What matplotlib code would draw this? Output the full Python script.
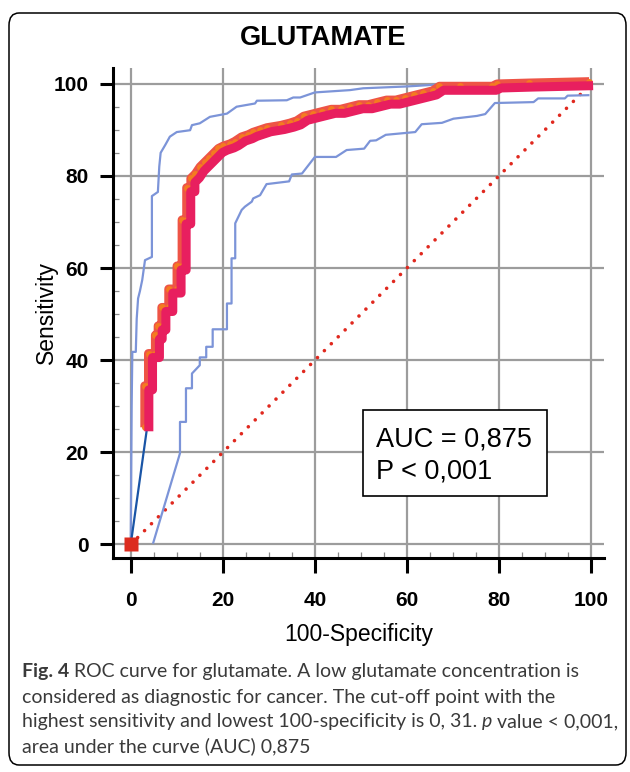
import matplotlib
matplotlib.use("Agg")
import matplotlib.pyplot as plt
from matplotlib import font_manager
from matplotlib.patches import Rectangle, FancyBboxPatch
from matplotlib.ticker import MultipleLocator
from matplotlib.transforms import offset_copy

# ---------------- data ----------------
roc_x = [3.5, 3.5, 4.3, 4.3, 5.8, 5.8, 6.4, 6.4, 7.2, 7.2, 8.7, 8.7, 10.5, 10.5,
         11.6, 11.6, 12.6, 12.6, 13.5, 13.5, 14.5, 15.5, 16.5, 17.5, 18.5, 19.5,
         20.5, 22, 23, 24.5, 26, 27, 28.5, 30, 33, 35, 36.5, 38, 40, 42, 44, 46,
         48, 50, 52, 54, 56, 58, 60, 62, 64, 66, 67.5, 72, 79, 80, 87, 100]
roc_y = [25, 34, 34, 41, 41, 45, 45, 47, 47, 51, 51, 55, 55, 60,
         60, 70, 70, 77, 77, 79, 80, 81.5, 82.5, 83.5, 84.5, 85.5,
         86, 86.5, 87, 88, 88.5, 89, 89.5, 90, 90.5, 91, 91.5, 92.5, 93, 93.5, 94, 94,
         94.5, 95, 95, 95.5, 96, 96, 96.5, 97, 97.5, 98, 99, 99, 99, 99.5, 99.7, 100]

ci_up_x = [0, 0.2, 0.35, 1.1, 1.3, 1.6, 2.0, 2.5, 3.1, 4.6, 4.6, 5.9, 6.2, 6.5,
           7.5, 8.5, 10, 12.9, 13.3, 15, 17.2, 20.9, 23, 27, 27.4, 33.9, 35.3,
           36.8, 40, 47.6, 50.5, 60, 65, 70, 80, 90, 100]
ci_up_y = [0, 30, 41.8, 41.8, 49, 53.4, 55, 57.4, 61.7, 62.4, 75.6, 76.5, 82, 85,
           86.7, 88.5, 89.5, 89.9, 91, 91.4, 92.8, 93.5, 95, 95.7, 96.3, 96.4, 97,
           97, 98.1, 98.6, 99, 99.4, 99.7, 100, 100, 100, 100]

ci_lo_x = [4.9, 10.7, 10.7, 12.0, 12.0, 13.3, 13.3, 15.0, 15.0, 16.4, 16.4, 17.8,
           17.8, 20.9, 20.9, 21.9, 21.9, 22.7, 22.7, 24.1, 24.8, 26.3, 26.6, 28.1,
           29.5, 34.4, 35.0, 37.2, 40.0, 44.6, 46.9, 50.7, 52.0, 53.3, 55.4, 61.8,
           63.2, 67.6, 70.1, 75.2, 77.0, 79.1, 87.5, 88.5, 94.3, 94.9, 99.4]
ci_lo_y = [0.4, 19.8, 26.6, 26.6, 33.9, 33.9, 37.1, 38.9, 40.6, 40.6, 42.9, 42.9,
           46.7, 46.7, 52.3, 52.3, 62.1, 62.1, 69.7, 72.6, 73.3, 74.4, 75.1, 75.8,
           78.2, 78.8, 80.3, 80.5, 84.1, 84.1, 85.6, 85.9, 87.6, 87.7, 88.9, 89.5,
           91.2, 91.5, 92.4, 93.0, 93.4, 95.8, 96.0, 96.8, 96.8, 97.4, 97.5]

diag = [0, 100]
ticks = [0, 20, 40, 60, 80, 100]
auc_text = "AUC = 0,875"
p_text = "P < 0,001"


def has_font(name):
    try:
        font_manager.findfont(font_manager.FontProperties(family=name),
                              fallback_to_default=False)
        return True
    except Exception:
        return False


narrow = "Liberation Sans Narrow" if has_font("Liberation Sans Narrow") else "Liberation Sans"
tick_size = 16 if narrow == "Liberation Sans Narrow" else 15
plt.rcParams['font.family'] = ['Liberation Sans', 'DejaVu Sans']

W, H = 630, 772
fig = plt.figure(figsize=(W / 100, H / 100), dpi=100)
fig.patch.set_facecolor('white')

# outer rounded frame
fig.add_artist(FancyBboxPatch((9 / W, 1 - 765 / H), 617 / W, 752 / H,
                              boxstyle="round,pad=0,rounding_size=0.016",
                              transform=fig.transFigure, fc='none', ec='black', lw=1.1))

ax = fig.add_axes([113 / W, 214 / H, 491 / W, 490 / H])
ax.set_xlim(-3.85, 102.8)
ax.set_ylim(-2.93, 103.4)

for s in ['top', 'right']:
    ax.spines[s].set_visible(False)
for s in ['left', 'bottom']:
    ax.spines[s].set_linewidth(2.2)

ax.set_xticks(ticks)
ax.set_yticks(ticks)
ax.xaxis.set_minor_locator(MultipleLocator(5))
ax.yaxis.set_minor_locator(MultipleLocator(5))
ax.tick_params(which='major', direction='out', width=2.2, color='black')
ax.tick_params(axis='x', which='major', length=11, pad=13)
ax.tick_params(axis='y', which='major', length=9.5, pad=8)
ax.tick_params(which='minor', direction='in', length=4.5, width=0.9, color='#8a8a8a')
for lab in ax.get_xticklabels() + ax.get_yticklabels():
    lab.set_fontfamily(narrow)
    lab.set_fontweight('bold')
    lab.set_fontsize(tick_size)
ax.grid(which='major', color='#9c9c9c', lw=1.6)
ax.set_axisbelow(True)

ax.set_xlabel("100-Specificity", fontsize=16.5, labelpad=9)
ax.set_ylabel("Sensitivity", fontsize=16.5, labelpad=-3)

# reference diagonal
ax.plot(diag, diag, color='#E0281E', lw=2.6, linestyle=(0, (0.01, 2.7)),
        dash_capstyle='round', zorder=3)

# confidence bounds
ax.plot(ci_up_x, ci_up_y, color='#7C94D8', lw=1.6, zorder=4)
ax.plot(ci_lo_x, ci_lo_y, color='#7C94D8', lw=1.6, zorder=4)

# line from origin to first point
ax.plot([0, roc_x[0]], [0, roc_y[0]], color='#1A55A6', lw=1.6, zorder=5)

# thick ROC curve, two shaded layers
hi = offset_copy(ax.transData, fig=fig, x=-2, y=2, units='dots')
lo = offset_copy(ax.transData, fig=fig, x=2, y=-2, units='dots')
ax.plot(roc_x, roc_y, color='#EE5446', lw=6.5, solid_capstyle='butt',
        solid_joinstyle='round', transform=hi, zorder=6)
ax.plot(roc_x, roc_y, 'o', color='#F47B20', ms=5, mec='none', transform=hi, zorder=6.5)
ax.plot(roc_x, roc_y, color='#E81F5F', lw=6.5, solid_capstyle='butt',
        solid_joinstyle='round', transform=lo, zorder=7)

# origin marker
ax.plot([0], [0], 's', color='#DC2B1E', ms=10, mec='none', zorder=8, clip_on=False)

# title
fig.text(323 / W, 1 - 38 / H, "GLUTAMATE", ha='center', va='center',
         fontsize=19.5, fontweight='bold')

# AUC box
fig.add_artist(Rectangle((363 / W, 1 - 496 / H), 184 / W, 86 / H,
                         transform=fig.transFigure, fc='white', ec='black', lw=1.2, zorder=10))
fig.text(376 / W, 1 - 440 / H, auc_text, ha='left', va='center', fontsize=19.5, zorder=11)
fig.text(376 / W, 1 - 472 / H, p_text, ha='left', va='center', fontsize=19.5, zorder=11)

# caption
cap_font = 'Lato' if has_font('Lato') else 'DejaVu Sans'
cap_size = 14
cap_col = '#3a3a3a'
renderer = fig.canvas.get_renderer()


def run(x_px, y_px, parts):
    x = x_px
    for txt, kw in parts:
        t = fig.text(x / W, 1 - y_px / H, txt, ha='left', va='center', fontsize=cap_size,
                     family=cap_font, color=cap_col, **kw)
        x = t.get_window_extent(renderer).x1


run(22, 671, [("Fig. 4", {'fontweight': 'bold'}),
              (" ROC curve for glutamate. A low glutamate concentration is", {})])
run(22, 697, [("considered as diagnostic for cancer. The cut-off point with the", {})])
run(22, 722, [("highest sensitivity and lowest 100-specificity is 0, 31. ", {}),
              ("p", {'fontstyle': 'italic'}),
              (" value < 0,001,", {})])
run(22, 746, [("area under the curve (AUC) 0,875", {})])

fig.savefig("out.png", dpi=100)
